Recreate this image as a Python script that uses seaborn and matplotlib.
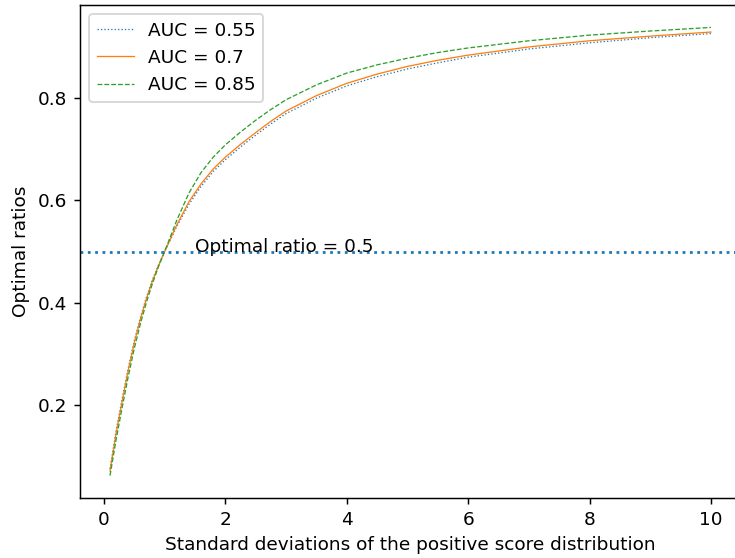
import matplotlib
matplotlib.use("Agg")
import matplotlib.pyplot as plt
import pandas as pd
import seaborn as sns

# Standard deviation of the positive score distribution
std_devs = [0.1, 0.2, 0.3, 0.4, 0.5, 0.6, 0.7, 0.8, 0.9, 1.0,
            1.2, 1.4, 1.6, 1.8, 2.0, 2.25, 2.5, 2.75, 3.0, 3.5,
            4.0, 4.5, 5.0, 5.5, 6.0, 7.0, 8.0, 9.0, 10.0]

# Optimal ratio for each AUC
ratio_auc_055 = [0.076, 0.150, 0.213, 0.272, 0.326, 0.371, 0.411, 0.445, 0.474, 0.500,
                 0.549, 0.592, 0.627, 0.656, 0.679, 0.704, 0.727, 0.749, 0.769, 0.799,
                 0.823, 0.841, 0.856, 0.868, 0.879, 0.895, 0.907, 0.917, 0.925]
ratio_auc_070 = [0.072, 0.145, 0.208, 0.268, 0.322, 0.368, 0.408, 0.443, 0.473, 0.500,
                 0.552, 0.597, 0.632, 0.661, 0.684, 0.709, 0.732, 0.754, 0.774, 0.804,
                 0.828, 0.846, 0.861, 0.873, 0.883, 0.899, 0.911, 0.920, 0.928]
ratio_auc_085 = [0.063, 0.133, 0.196, 0.256, 0.311, 0.359, 0.401, 0.438, 0.471, 0.500,
                 0.561, 0.614, 0.654, 0.684, 0.708, 0.733, 0.756, 0.777, 0.796, 0.825,
                 0.848, 0.864, 0.877, 0.888, 0.897, 0.911, 0.922, 0.930, 0.937]

auc_labels = ["AUC = 0.55", "AUC = 0.7", "AUC = 0.85"]
series = [ratio_auc_055, ratio_auc_070, ratio_auc_085]
linestyles = [":", "-", "--"]
colors = sns.color_palette("tab10", 3)

dpi = 133
fig = plt.figure(figsize=(735 / dpi, 558 / dpi), dpi=dpi)
ax = fig.add_axes([0.1088, 0.1075, 0.8994, 0.8835])

for label, values, ls, color in zip(auc_labels, series, linestyles, colors):
    df = pd.DataFrame({"std": std_devs, "ratio": values})
    sns.lineplot(data=df, x="std", y="ratio", ax=ax, label=label,
                 color=color, linestyle=ls, linewidth=0.7)

ax.axhline(0.5, linestyle=":", color=colors[0], linewidth=1.5)
ax.text(1.5, 0.5, "Optimal ratio = 0.5", fontsize=10)

ax.set_xlabel("Standard deviations of the positive score distribution")
ax.set_ylabel("Optimal ratios")
ax.set_xticks([0, 2, 4, 6, 8, 10])
ax.set_yticks([0.2, 0.4, 0.6, 0.8])
ax.legend(loc="upper left")

fig.savefig("out.png", dpi=dpi)
